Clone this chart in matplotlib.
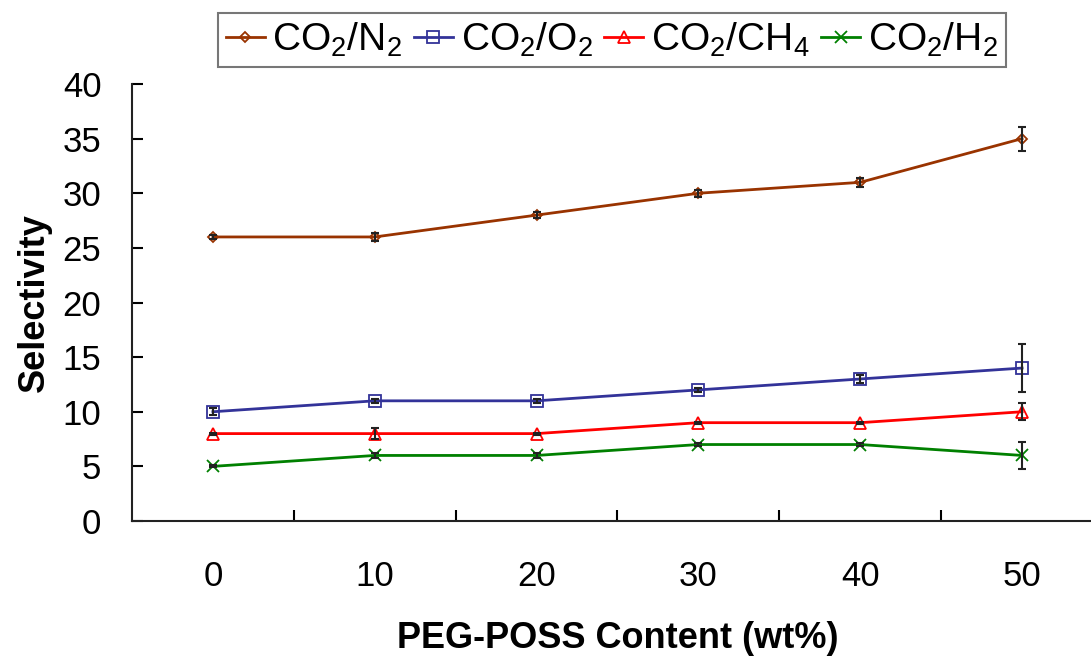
import numpy as np
import matplotlib
matplotlib.use("Agg")
import matplotlib.pyplot as plt

plt.rcParams['font.family'] = ['Liberation Sans', 'DejaVu Sans']
plt.rcParams['mathtext.fontset'] = 'custom'
plt.rcParams['mathtext.rm'] = 'Liberation Sans'
plt.rcParams['mathtext.it'] = 'Liberation Sans'

# data
content = ['0', '10', '20', '30', '40', '50']
n2 = [26, 26, 28, 30, 31, 35]
n2_err = [0.2, 0.4, 0.3, 0.3, 0.4, 1.1]
o2 = [10, 11, 11, 12, 13, 14]
o2_err = [0.3, 0.2, 0.2, 0.2, 0.4, 2.2]
ch4 = [8, 8, 8, 9, 9, 10]
ch4_err = [0.1, 0.5, 0.1, 0.1, 0.1, 0.8]
h2 = [5, 6, 6, 7, 7, 6]
h2_err = [0.1, 0.2, 0.2, 0.1, 0.1, 1.2]

series = [
    (n2, n2_err, r'CO$_2$/N$_2$', '#993300', 'D', 5),
    (o2, o2_err, r'CO$_2$/O$_2$', '#333399', 's', 8),
    (ch4, ch4_err, r'CO$_2$/CH$_4$', '#FF0000', '^', 8),
    (h2, h2_err, r'CO$_2$/H$_2$', '#008000', 'x', 8),
]

fig = plt.figure(figsize=(10.91, 6.58), dpi=100)
ax = fig.add_axes([132 / 1091, 1 - 521 / 658, (1103 - 132) / 1091, (521 - 84) / 658])

x = np.arange(len(content))
for vals, err, lab, col, mk, ms in series:
    ax.errorbar(x, vals, yerr=err, fmt='none', ecolor='#222222', elinewidth=1.5,
                capsize=3, capthick=1.5, zorder=3)
    ax.plot(x, vals, color=col, lw=2, marker=mk, ms=ms, mfc='none', mec=col,
            mew=1.3, label=lab, zorder=2)

ax.set_xlim(-0.5, 5.5)
ax.set_ylim(0, 40)
ax.set_yticks(np.arange(0, 41, 5))
ax.set_xticks(x)
ax.set_xticklabels(content)
ax.set_xticks(np.arange(0.5, 5, 1), minor=True)
ax.tick_params(axis='x', which='major', length=0, labelsize=25, pad=28)
ax.tick_params(axis='x', which='minor', length=8, width=1.5, direction='in')
ax.tick_params(axis='y', length=8, width=1.5, direction='in', labelsize=25, pad=22)

for s in ['top', 'right']:
    ax.spines[s].set_visible(False)
for s in ['left', 'bottom']:
    ax.spines[s].set_linewidth(1.5)
    ax.spines[s].set_color('#222222')

ax.set_xlabel('PEG-POSS Content (wt%)', fontsize=26, fontweight='bold', labelpad=20)
ax.set_ylabel('Selectivity', fontsize=26, fontweight='bold', labelpad=8)

leg = ax.legend(loc='upper left', bbox_to_anchor=(218 / 1091, 1 - 13 / 658),
                bbox_transform=fig.transFigure, ncol=4, fontsize=28, frameon=True,
                fancybox=False, edgecolor='#555555', handlelength=1.0,
                handletextpad=0.2, columnspacing=0.3, borderpad=0.2,
                borderaxespad=0)
leg.get_frame().set_linewidth(1.5)

fig.savefig('out.png', dpi=100)
